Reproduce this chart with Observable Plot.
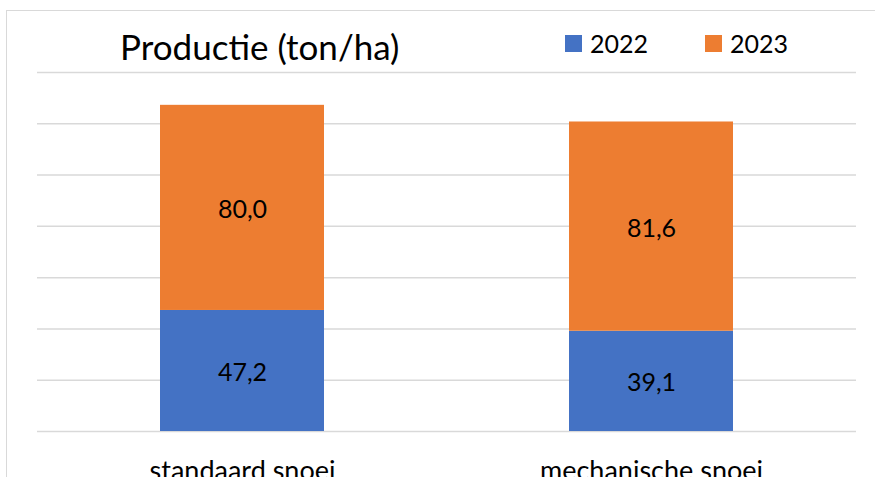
<!DOCTYPE html>
<html>
<head>
<meta charset="utf-8">
<script src="https://cdn.jsdelivr.net/npm/d3@7"></script>
<script src="https://cdn.jsdelivr.net/npm/@observablehq/plot@0.6"></script>
<style>
  html, body { margin: 0; padding: 0; background: #fff; overflow: hidden; }
  #wrap { position: relative; width: 875px; height: 477px; font-family: Lato, "Open Sans", sans-serif; color: #000; }
  #frame { position: absolute; left: 6px; top: 10px; width: 900px; height: 500px; border: 1.5px solid #d9d9d9; box-sizing: border-box; }
  #title { position: absolute; left: 120px; top: 24px; font-size: 35px; line-height: 44px; white-space: nowrap; }
  #legend { position: absolute; left: 565px; top: 26px; font-size: 25px; line-height: 34px; display: flex; align-items: center; white-space: nowrap; }
  .sw { display: inline-block; width: 17px; height: 17px; margin-right: 8px; }
  .item { display: flex; align-items: center; margin-right: 57px; }
  #chart { position: absolute; left: 0; top: 0; }
</style>
</head>
<body>
<div id="wrap">
  <div id="frame"></div>
  <div id="chart"></div>
  <div id="title">Productie (ton/ha)</div>
  <div id="legend"></div>
</div>
<script>
const categories = ["standaard snoei", "mechanische snoei"];
const series = ["2022", "2023"];
const values2022 = [47.2, 39.1];
const values2023 = [80.0, 81.6];
const colors = ["#4472C4", "#ED7D31"];
const yTicks = [0, 20, 40, 60, 80, 100, 120, 140];

const data = [];
categories.forEach((c, i) => {
  data.push({cat: c, series: "2022", value: values2022[i]});
  data.push({cat: c, series: "2023", value: values2023[i]});
});

const fmt = v => v.toFixed(1).replace(".", ",");

const chart = Plot.plot({
  width: 875,
  height: 477,
  marginLeft: 37,
  marginRight: 19,
  marginTop: 72,
  marginBottom: 46,
  style: {background: "transparent", fontFamily: "Lato, 'Open Sans', sans-serif", color: "#000"},
  x: {domain: categories, paddingInner: 0.6, paddingOuter: 0.3, label: null},
  y: {domain: [0, 140], label: null, axis: null},
  color: {domain: series, range: colors},
  marks: [
    Plot.ruleY(yTicks, {stroke: "#d9d9d9", strokeWidth: 1.5}),
    Plot.barY(data, {x: "cat", y: "value", fill: "series", z: "series"}),
    Plot.text(data, Plot.stackY({x: "cat", y: "value", z: "series", text: d => fmt(d.value), fontSize: 25, fill: "#000", dy: 2})),
    Plot.axisX({tickSize: 0, tickPadding: 29, fontSize: 27, fill: "#000"})
  ]
});
document.getElementById("chart").appendChild(chart);

const legend = document.getElementById("legend");
series.forEach((s, i) => {
  const item = document.createElement("span");
  item.className = "item";
  const sw = document.createElement("span");
  sw.className = "sw";
  sw.style.background = colors[i];
  item.appendChild(sw);
  item.appendChild(document.createTextNode(s));
  legend.appendChild(item);
});
</script>
</body>
</html>
